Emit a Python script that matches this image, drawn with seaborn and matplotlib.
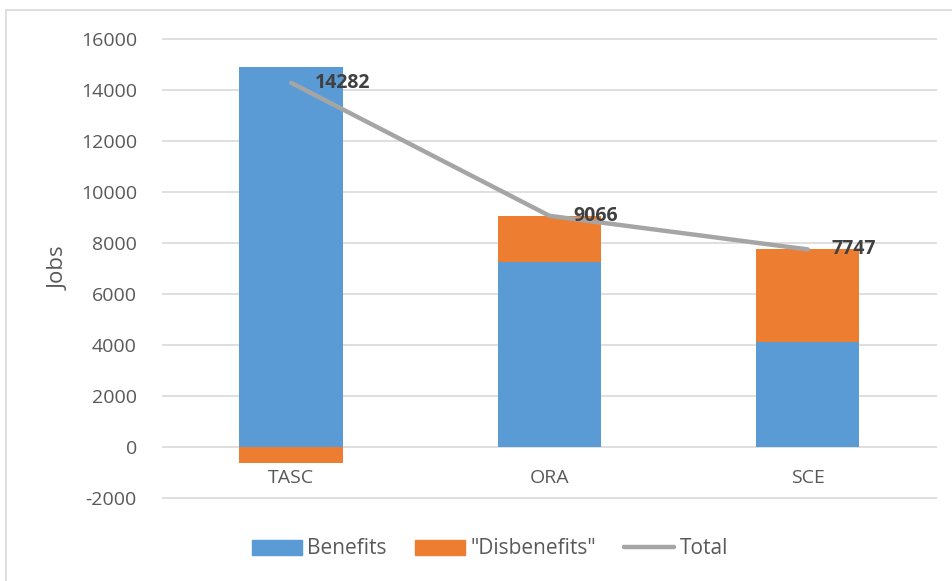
import numpy as np
import pandas as pd
import seaborn as sns
import matplotlib.pyplot as plt
from matplotlib.patches import Patch, Rectangle
from matplotlib.lines import Line2D

# data
categories = ['TASC', 'ORA', 'SCE']
benefits = [14910, 7255, 4118]
disbenefits = [-628, 1811, 3629]
total = [14282, 9066, 7747]

blue = '#5B9BD5'
orange = '#ED7D31'
grey_line = '#A5A5A5'
text_grey = '#595959'

sns.set_theme(style='white')
plt.rcParams['font.family'] = ['Open Sans', 'DejaVu Sans']
plt.rcParams['axes.unicode_minus'] = False

fig = plt.figure(figsize=(9.53, 5.81), dpi=100)
ax = fig.add_axes([162 / 953, 1 - 499 / 581, (937 - 162) / 953, (499 - 38) / 581])

# orange part: stacked on top of benefits when positive, below zero when negative
orange_top = [b + d if d > 0 else d for b, d in zip(benefits, disbenefits)]
df = pd.DataFrame({'cat': categories, 'benefits': benefits,
                   'orange_top': orange_top, 'total': total})

sns.barplot(data=df, x='cat', y='orange_top', color=orange, width=0.4,
            saturation=1, linewidth=0, ax=ax, zorder=2)
sns.barplot(data=df, x='cat', y='benefits', color=blue, width=0.4,
            saturation=1, linewidth=0, ax=ax, zorder=3)
sns.lineplot(x=np.arange(len(categories)), y=df['total'], color=grey_line,
             linewidth=3.2, ax=ax, zorder=4)

for i, v in enumerate(total):
    ax.annotate(str(v), (i, v), xytext=(17, 0), textcoords='offset points',
                ha='left', va='center', fontsize=14, fontweight='bold',
                color='#404040', zorder=5)

ax.set_ylim(-2040, 16040)
ax.set_xlim(-0.5, 2.5)
ax.set_yticks(range(-2000, 16001, 2000))
ax.yaxis.grid(True, color='#D9D9D9', linewidth=1.2)
ax.set_axisbelow(True)
for s in ax.spines.values():
    s.set_visible(False)
ax.spines['bottom'].set_position(('data', 0))
ax.tick_params(axis='x', length=0, pad=15.5, labelsize=14, labelcolor=text_grey)
ax.tick_params(axis='y', length=0, pad=18, labelsize=14, labelcolor=text_grey)
ax.set_xlabel('')
ax.set_ylabel('Jobs', fontsize=16, color=text_grey, labelpad=8)

handles = [Patch(facecolor=blue, edgecolor=blue),
           Patch(facecolor=orange, edgecolor=orange),
           Line2D([0], [0], color=grey_line, linewidth=3.2)]
fig.legend(handles, ['Benefits', '"Disbenefits"', 'Total'], loc='center',
           bbox_to_anchor=(490 / 953, 1 - 549 / 581), ncol=3, frameon=False,
           fontsize=15, labelcolor=text_grey, handlelength=2.4,
           handleheight=0.75, handletextpad=0.25, columnspacing=1.35)

# chart area border
fig.patches.append(Rectangle((6 / 953, -0.05), 1.2, 1 - 10 / 581 + 0.05,
                             transform=fig.transFigure, fill=False,
                             edgecolor='#D9D9D9', linewidth=1.2))

fig.savefig('out.png', dpi=100)
